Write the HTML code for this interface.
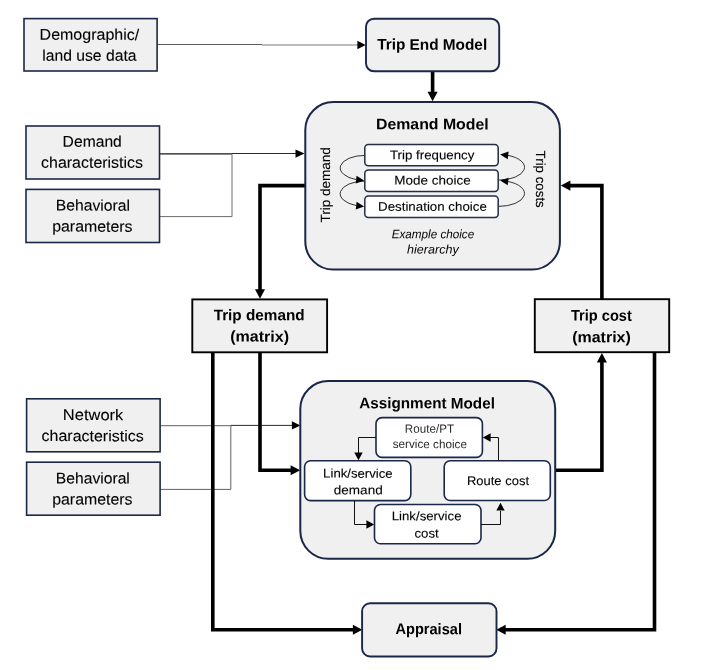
<!DOCTYPE html>
<html lang="en">
<head>
<meta charset="utf-8">
<title>Transport model structure</title>
<style>
html,body{margin:0;padding:0;background:#ffffff;}
body{width:707px;height:670px;overflow:hidden;}
svg{display:block;font-family:"Liberation Sans",sans-serif;}
text{white-space:pre;text-rendering:geometricPrecision;stroke:#000;stroke-width:0.1px;stroke-linejoin:round;}
svg{will-change:transform;}
</style>
</head>
<body>
<svg width="707" height="670" viewBox="0 0 707 670">
<rect x="0" y="0" width="707" height="670" fill="#ffffff"/>
<path d="M157 44.5 L262 44.5" fill="none" stroke="#5c5c5c" stroke-width="1" stroke-linejoin="miter"/>
<path d="M262 45 L358 45" fill="none" stroke="#7a7a7a" stroke-width="1" stroke-linejoin="miter"/>
<polygon points="365.6,45 357.4,40.8 357.4,49.2" fill="#000"/>
<path d="M159.5 216.6 L232 216.6 L232 154.3 L159.5 154.3" fill="none" stroke="#6c6c6c" stroke-width="1" stroke-linejoin="miter"/>
<path d="M159.5 153.5 L232 153.5" fill="none" stroke="#505050" stroke-width="1" stroke-linejoin="miter"/>
<path d="M232 153.5 L296 153.5" fill="none" stroke="#2a2a2a" stroke-width="1" stroke-linejoin="miter"/>
<polygon points="304.5,153.6 295.5,149.4 295.5,157.8" fill="#000"/>
<path d="M160 489.4 L230.8 489.4 L230.8 425.7 L160 425.7" fill="none" stroke="#626262" stroke-width="1" stroke-linejoin="miter"/>
<path d="M230.8 425.4 L292 425.4" fill="none" stroke="#2a2a2a" stroke-width="1" stroke-linejoin="miter"/>
<polygon points="300.4,425.4 291.9,421.2 291.9,429.6" fill="#000"/>
<path d="M432.6 71 L432.6 92" fill="none" stroke="#000" stroke-width="3.6" stroke-linejoin="miter"/>
<polygon points="432.6,101.3 427.55,91.7 437.65,91.7" fill="#000"/>
<path d="M306 185.6 L260 185.6 L260 290" fill="none" stroke="#000" stroke-width="3.6" stroke-linejoin="miter"/>
<polygon points="260,298.8 254.95,289.2 265.05,289.2" fill="#000"/>
<path d="M601.9 299 L601.9 185.6 L569 185.6" fill="none" stroke="#000" stroke-width="3.6" stroke-linejoin="miter"/>
<polygon points="560.8,185.6 570.4,180.55 570.4,190.65" fill="#000"/>
<path d="M260 352 L260 470.2 L291 470.2" fill="none" stroke="#000" stroke-width="3.6" stroke-linejoin="miter"/>
<polygon points="300.2,470.2 290.6,465.15 290.6,475.25" fill="#000"/>
<path d="M556 470.2 L601.9 470.2 L601.9 362" fill="none" stroke="#000" stroke-width="3.6" stroke-linejoin="miter"/>
<polygon points="601.9,353 596.85,362.6 606.95,362.6" fill="#000"/>
<path d="M212.8 352 L212.8 629.8 L354 629.8" fill="none" stroke="#000" stroke-width="3.6" stroke-linejoin="miter"/>
<polygon points="362.3,629.8 352.9,624.75 352.9,634.85" fill="#000"/>
<path d="M654.5 352 L654.5 629.8 L505 629.8" fill="none" stroke="#000" stroke-width="3.6" stroke-linejoin="miter"/>
<polygon points="496.3,629.8 505.7,624.75 505.7,634.85" fill="#000"/>
<rect x="24" y="18.6" width="133.1" height="52.4" rx="0" ry="0" fill="#f0f0f0" stroke="#1b2748" stroke-width="1.6"/>
<rect x="26" y="126" width="133.5" height="53" rx="0" ry="0" fill="#f0f0f0" stroke="#1b2748" stroke-width="1.6"/>
<rect x="26" y="189.4" width="133.5" height="53.1" rx="0" ry="0" fill="#f0f0f0" stroke="#1b2748" stroke-width="1.6"/>
<rect x="26.6" y="398.8" width="133.5" height="53.0" rx="0" ry="0" fill="#f0f0f0" stroke="#1b2748" stroke-width="1.6"/>
<rect x="26.6" y="462.2" width="133.5" height="53.0" rx="0" ry="0" fill="#f0f0f0" stroke="#1b2748" stroke-width="1.6"/>
<rect x="366" y="18.7" width="133.2" height="52.6" rx="8" ry="8" fill="#f0f0f0" stroke="#1b2748" stroke-width="1.9"/>
<rect x="305.3" y="102" width="254.6" height="167.6" rx="28" ry="28" fill="#f0f0f0" stroke="#1b2748" stroke-width="2"/>
<rect x="300.3" y="381" width="254.9" height="177.8" rx="28" ry="28" fill="#f0f0f0" stroke="#1b2748" stroke-width="2"/>
<rect x="362.1" y="603.3" width="134.4" height="53.2" rx="8" ry="8" fill="#f0f0f0" stroke="#1b2748" stroke-width="1.9"/>
<rect x="192.3" y="299.4" width="134.8" height="52.9" rx="0" ry="0" fill="#f0f0f0" stroke="#000" stroke-width="1.9"/>
<rect x="534.8" y="299.2" width="134.4" height="53.0" rx="0" ry="0" fill="#f0f0f0" stroke="#000" stroke-width="1.9"/>
<rect x="364.8" y="144.45" width="133.4" height="21.35" rx="3.5" ry="3.5" fill="#ffffff" stroke="#232d49" stroke-width="1.5"/>
<rect x="364.8" y="169.9" width="133.4" height="21.55" rx="3.5" ry="3.5" fill="#ffffff" stroke="#232d49" stroke-width="1.5"/>
<rect x="364.8" y="195.95" width="133.4" height="21.5" rx="3.5" ry="3.5" fill="#ffffff" stroke="#232d49" stroke-width="1.5"/>
<rect x="376" y="417.6" width="106.4" height="39.8" rx="6" ry="6" fill="#ffffff" stroke="#1b2748" stroke-width="1.6"/>
<rect x="304.6" y="460.8" width="106.2" height="39.8" rx="6" ry="6" fill="#ffffff" stroke="#1b2748" stroke-width="1.6"/>
<rect x="444.2" y="460.8" width="106.1" height="39.7" rx="6" ry="6" fill="#ffffff" stroke="#1b2748" stroke-width="1.6"/>
<rect x="374.5" y="504.5" width="106.5" height="39.3" rx="6" ry="6" fill="#ffffff" stroke="#1b2748" stroke-width="1.6"/>
<path d="M364.8 155.4 A 24.6 12.5 0 0 0 356.42 179.65" fill="none" stroke="#333" stroke-width="1"/>
<path d="M364.8 181.1 A 24.6 12.6 0 0 0 356.42 205.55" fill="none" stroke="#333" stroke-width="1"/>
<path d="M498.5 206.4 A 26.0 12.9 0 0 0 507.88 181.47" fill="none" stroke="#333" stroke-width="1"/>
<path d="M498.5 180.1 A 26.0 12.8 0 0 0 507.88 155.36" fill="none" stroke="#333" stroke-width="1"/>
<polygon points="364.1,180.4 355.76,183.51 356.52,175.74" fill="#000"/>
<polygon points="364.1,206.4 355.72,209.39 356.58,201.64" fill="#000"/>
<polygon points="500.2,180.5 508.63,177.63 507.65,185.37" fill="#000"/>
<polygon points="500.2,154.5 508.59,151.52 507.72,159.27" fill="#000"/>
<path d="M376 437.5 L358.5 437.5 L358.5 453" fill="none" stroke="#111" stroke-width="1" stroke-linejoin="miter"/>
<polygon points="358.5,460.2 354.3,452.4 362.7,452.4" fill="#000"/>
<path d="M354.5 500.6 L354.5 524.5 L367 524.5" fill="none" stroke="#111" stroke-width="1" stroke-linejoin="miter"/>
<polygon points="374.2,524.5 366.4,520.3 366.4,528.7" fill="#000"/>
<path d="M481 524.5 L500.5 524.5 L500.5 511" fill="none" stroke="#111" stroke-width="1" stroke-linejoin="miter"/>
<polygon points="500.5,502.8 496.3,510.6 504.7,510.6" fill="#000"/>
<path d="M498.5 460.8 L498.5 437.5 L490 437.5" fill="none" stroke="#111" stroke-width="1" stroke-linejoin="miter"/>
<polygon points="482.8,437.5 490.6,433.3 490.6,441.7" fill="#000"/>
<g class="t">
<text transform="translate(39.59 39.8) skewY(0.05)" textLength="99.61" lengthAdjust="spacingAndGlyphs" style="font-size:15.6px;" fill="#000">Demographic/</text>
<text transform="translate(42.24 60.8) skewY(0.05)" textLength="94.26" lengthAdjust="spacingAndGlyphs" style="font-size:15.6px;" fill="#000">land use data</text>
<text transform="translate(62.62 146.7) skewY(0.05)" textLength="59.19" lengthAdjust="spacingAndGlyphs" style="font-size:15.6px;" fill="#000">Demand</text>
<text transform="translate(41.12 167.7) skewY(0.05)" textLength="101.85" lengthAdjust="spacingAndGlyphs" style="font-size:15.6px;" fill="#000">characteristics</text>
<text transform="translate(55.81 210.6) skewY(0.05)" textLength="74.24" lengthAdjust="spacingAndGlyphs" style="font-size:15.6px;" fill="#000">Behavioral</text>
<text transform="translate(52.18 231.6) skewY(0.05)" textLength="80.4" lengthAdjust="spacingAndGlyphs" style="font-size:15.6px;" fill="#000">parameters</text>
<text transform="translate(62.85 420.1) skewY(0.05)" textLength="60.43" lengthAdjust="spacingAndGlyphs" style="font-size:15.6px;" fill="#000">Network</text>
<text transform="translate(41.62 441.1) skewY(0.05)" textLength="102.06" lengthAdjust="spacingAndGlyphs" style="font-size:15.6px;" fill="#000">characteristics</text>
<text transform="translate(55.81 483.5) skewY(0.05)" textLength="74.03" lengthAdjust="spacingAndGlyphs" style="font-size:15.6px;" fill="#000">Behavioral</text>
<text transform="translate(52.18 504.4) skewY(0.05)" textLength="80.4" lengthAdjust="spacingAndGlyphs" style="font-size:15.6px;" fill="#000">parameters</text>
<text transform="translate(377.13 49.6) skewY(0.05)" textLength="110.05" lengthAdjust="spacingAndGlyphs" style="font-size:15.4px;font-weight:bold;stroke:none;" fill="#000">Trip End Model</text>
<text transform="translate(375.94 129.3) skewY(0.05)" textLength="112.78" lengthAdjust="spacingAndGlyphs" style="font-size:15.4px;font-weight:bold;stroke:none;" fill="#000">Demand Model</text>
<text transform="translate(359.22 408.3) skewY(0.05)" textLength="135.66" lengthAdjust="spacingAndGlyphs" style="font-size:15.4px;font-weight:bold;stroke:none;" fill="#000">Assignment Model</text>
<text transform="translate(395.44 634.1) skewY(0.05)" textLength="66.5" lengthAdjust="spacingAndGlyphs" style="font-size:15.4px;font-weight:bold;stroke:none;" fill="#000">Appraisal</text>
<text transform="translate(213.63 320.2) skewY(0.05)" textLength="90.97" lengthAdjust="spacingAndGlyphs" style="font-size:15.4px;font-weight:bold;stroke:none;" fill="#000">Trip demand</text>
<text transform="translate(230.2 341.6) skewY(0.05)" textLength="58.9" lengthAdjust="spacingAndGlyphs" style="font-size:15.4px;font-weight:bold;stroke:none;" fill="#000">(matrix)</text>
<text transform="translate(570.94 320.6) skewY(0.05)" textLength="60.84" lengthAdjust="spacingAndGlyphs" style="font-size:15.4px;font-weight:bold;stroke:none;" fill="#000">Trip cost</text>
<text transform="translate(572.2 342.2) skewY(0.05)" textLength="58.59" lengthAdjust="spacingAndGlyphs" style="font-size:15.4px;font-weight:bold;stroke:none;" fill="#000">(matrix)</text>
<text transform="translate(390.0 159.2) skewY(0.05)" textLength="84.32" lengthAdjust="spacingAndGlyphs" style="font-size:12.5px;" fill="#000">Trip frequency</text>
<text transform="translate(394.29 184.4) skewY(0.05)" textLength="76.51" lengthAdjust="spacingAndGlyphs" style="font-size:12.5px;" fill="#000">Mode choice</text>
<text transform="translate(378.01 210.7) skewY(0.05)" textLength="108.89" lengthAdjust="spacingAndGlyphs" style="font-size:12.5px;" fill="#000">Destination choice</text>
<text transform="translate(391.74 238.2) skewY(0.05)" textLength="82.39" lengthAdjust="spacingAndGlyphs" style="font-size:12.3px;font-style:italic;stroke:none;" fill="#000">Example choice</text>
<text transform="translate(407.09 253.4) skewY(0.05)" textLength="51.58" lengthAdjust="spacingAndGlyphs" style="font-size:12.3px;font-style:italic;stroke:none;" fill="#000">hierarchy</text>
<text transform="translate(404.84 432.8) skewY(0.05)" textLength="49.22" lengthAdjust="spacingAndGlyphs" style="font-size:12.0px;stroke:none;" fill="#2b2b2b">Route/PT</text>
<text transform="translate(392.67 448.1) skewY(0.05)" textLength="74.25" lengthAdjust="spacingAndGlyphs" style="font-size:12.0px;stroke:none;" fill="#2b2b2b">service choice</text>
<text transform="translate(323.12 477.6) skewY(0.05)" textLength="69.57" lengthAdjust="spacingAndGlyphs" style="font-size:12.5px;" fill="#000">Link/service</text>
<text transform="translate(333.83 494.3) skewY(0.05)" textLength="48.84" lengthAdjust="spacingAndGlyphs" style="font-size:12.5px;" fill="#000">demand</text>
<text transform="translate(466.94 485.0) skewY(0.05)" textLength="62.06" lengthAdjust="spacingAndGlyphs" style="font-size:12.5px;" fill="#000">Route cost</text>
<text transform="translate(391.72 520.2) skewY(0.05)" textLength="69.77" lengthAdjust="spacingAndGlyphs" style="font-size:12.5px;" fill="#000">Link/service</text>
<text transform="translate(414.44 537.5) skewY(0.05)" textLength="24.26" lengthAdjust="spacingAndGlyphs" style="font-size:12.5px;" fill="#000">cost</text>
<text transform="translate(329.9 222.3) rotate(-90)" x="-0.3" y="0" textLength="75.37" lengthAdjust="spacingAndGlyphs" style="font-size:13.3px;" fill="#000">Trip demand</text>
<text transform="translate(535.6 150.9) rotate(90)" x="-0.3" y="0" textLength="57.17" lengthAdjust="spacingAndGlyphs" style="font-size:13.3px;" fill="#000">Trip costs</text>
</g>
</svg>
</body>
</html>
